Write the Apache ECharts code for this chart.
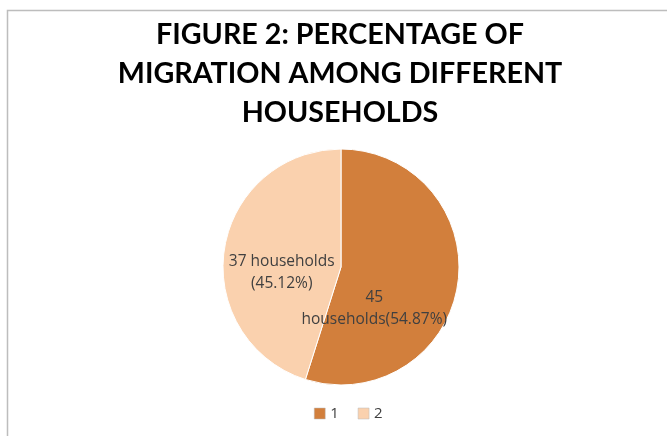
<!DOCTYPE html>
<html>
<head>
<meta charset="utf-8">
<script src="https://cdn.jsdelivr.net/npm/echarts@6/dist/echarts.min.js"></script>
<style>html,body{margin:0;padding:0;background:#fff}#c{width:667px;height:436px}</style>
</head>
<body>
<div id="c"></div>
<script>
var categories = ['1', '2'];
var households = [45, 37];
var percentLabels = ['54.87%', '45.12%'];
var labelTexts = ['45\nhouseholds(' + percentLabels[0] + ')', '37 households\n(' + percentLabels[1] + ')'];
var colors = ['#D27F3C', '#FAD1AE'];

var chart = echarts.init(document.getElementById('c'));
chart.setOption({
  animation: false,
  backgroundColor: '#fff',
  graphic: [{
    type: 'rect', shape: { x: 7.5, y: 10.5, width: 700, height: 500 },
    style: { fill: 'none', stroke: '#bdbdbd', lineWidth: 1.5 }, silent: true
  }],
  title: {
    text: 'FIGURE 2: PERCENTAGE OF\nMIGRATION AMONG DIFFERENT\nHOUSEHOLDS',
    left: 335, textAlign: 'center', top: 10,
    textStyle: { fontFamily: 'Lato', fontWeight: 'bold', fontSize: 28.7, lineHeight: 39, color: '#000' }
  },
  legend: {
    bottom: 10, left: 309, itemWidth: 11, itemHeight: 11, itemGap: 19,
    icon: 'rect',
    itemStyle: { borderColor: '#bbbbbb', borderWidth: 0.5 },
    textStyle: { fontFamily: 'Open Sans', fontSize: 15, color: '#404040' },
    data: categories
  },
  series: [{
    type: 'pie',
    center: [341, 267], radius: 118,
    startAngle: 90, clockwise: true,
    avoidLabelOverlap: false,
    labelLayout: { hideOverlap: false },
    itemStyle: { borderColor: '#ffffff', borderWidth: 1 },
    label: { show: true, position: 'inside', fontFamily: 'Open Sans', fontSize: 15.5, lineHeight: 22, color: '#404040' },
    labelLine: { show: false },
    data: categories.map(function (c, i) {
      return {
        name: c, value: households[i], itemStyle: { color: colors[i] },
        label: { formatter: labelTexts[i], offset: i === 0 ? [-28, 32] : [2, 15] }
      };
    })
  }]
});
</script>
</body>
</html>
